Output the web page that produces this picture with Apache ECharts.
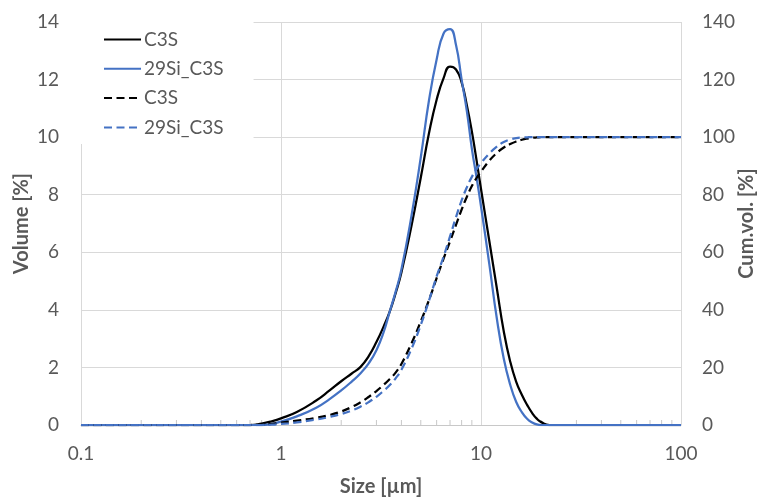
<!DOCTYPE html>
<html>
<head>
<meta charset="utf-8">
<title>Particle size distribution</title>
<script src="https://cdn.jsdelivr.net/npm/echarts@6/dist/echarts.min.js"></script>
<style>
  html, body { margin: 0; padding: 0; background: #fff; }
  #chart { width: 760px; height: 497px; }
</style>
</head>
<body>
<div id="chart"></div>
<script>
// Particle sizes [µm] at which the distributions are sampled
const sizes = [0.1, 0.2, 0.3, 0.4, 0.5, 0.6, 0.7, 0.8, 0.9, 1.0, 1.2, 1.5, 1.75, 2.0, 2.25, 2.5, 2.75, 3.0, 3.25, 3.5, 3.75, 4.0, 4.5, 5.0, 5.5, 6.0, 6.5, 7.0, 7.5, 8.0, 8.5, 9.0, 9.5, 10, 11, 12, 13, 14, 15, 16, 17, 18, 19, 20, 22, 25, 30, 40, 60, 100];

// Volume density [%]
const c3sVolume = [0, 0, 0, 0, 0, 0, 0, 0.05, 0.13, 0.23, 0.45, 0.85, 1.2, 1.52, 1.78, 2.02, 2.4, 2.88, 3.4, 3.95, 4.6, 5.3, 6.95, 8.6, 10.15, 11.3, 12.05, 12.45, 12.35, 11.9, 11.1, 10.2, 9.2, 8.2, 6.4, 4.75, 3.25, 2.2, 1.5, 1.05, 0.7, 0.42, 0.22, 0.1, 0, 0, 0, 0, 0, 0];
const si29Volume = [0, 0, 0, 0, 0, 0, 0, 0, 0.04, 0.12, 0.3, 0.6, 0.9, 1.2, 1.5, 1.8, 2.15, 2.6, 3.2, 3.95, 4.65, 5.4, 7.3, 9.3, 11.3, 12.7, 13.6, 13.75, 13.2, 12.0, 10.9, 9.6, 8.6, 7.6, 5.6, 3.7, 2.3, 1.4, 0.8, 0.45, 0.22, 0.09, 0.02, 0, 0, 0, 0, 0, 0, 0];

// Cumulative volume [%]
const c3sCumulative = [0, 0, 0, 0, 0, 0, 0, 0.1, 0.4, 0.8, 1.5, 2.5, 3.5, 4.7, 6.2, 7.9, 9.8, 11.8, 13.9, 16.0, 18.3, 21.2, 28.5, 36.0, 43.5, 51.0, 57.8, 63.8, 69.5, 74.8, 79.3, 83.0, 85.8, 88.0, 91.8, 94.5, 96.4, 97.6, 98.5, 99.1, 99.5, 99.75, 99.9, 100, 100, 100, 100, 100, 100, 100];
const si29Cumulative = [0, 0, 0, 0, 0, 0, 0, 0, 0.1, 0.35, 0.9, 1.9, 2.8, 3.8, 5.0, 6.4, 8.0, 9.8, 11.8, 13.9, 16.3, 19.2, 26.6, 34.8, 43.3, 51.6, 58.5, 65.5, 72.2, 78.0, 82.6, 86.2, 88.9, 91.0, 94.3, 96.7, 98.3, 99.2, 99.65, 99.85, 99.95, 100, 100, 100, 100, 100, 100, 100, 100, 100];

// Minor tick positions on the logarithmic size axis
const minorTicks = [0.2, 0.3, 0.4, 0.5, 0.6, 0.7, 0.8, 0.9, 2, 3, 4, 5, 6, 7, 8, 9, 20, 30, 40, 50, 60, 70, 80, 90];

const seriesNames = ['C3S', '29Si_C3S', 'C3S cum.', '29Si_C3S cum.'];

const pairs = (ys) => sizes.map((x, i) => [x, ys[i]]);

const FONT = 'Lato';
const TEXT = '#595959';
const GRID = '#d9d9d9';
const BLACK = '#000000';
const BLUE = '#4472C4';
const DASH = [8, 4.5];

const chart = echarts.init(document.getElementById('chart'), null, { renderer: 'canvas' });

function lineSeries(name, data, color, yAxisIndex, dashed) {
  return {
    name: name,
    type: 'line',
    data: data,
    yAxisIndex: yAxisIndex,
    symbol: 'none',
    showSymbol: false,
    smooth: 0.5,
    color: color,
    lineStyle: { color: color, width: 2.25, type: dashed ? DASH : 'solid' },
    emphasis: { disabled: true },
    z: 3
  };
}

const axisTitle = { fontFamily: FONT, fontSize: 20, fontWeight: 'bold', color: TEXT };

chart.setOption({
  animation: false,
  backgroundColor: '#ffffff',
  textStyle: { fontFamily: FONT },
  grid: { left: 81, right: 79, top: 22, bottom: 72, containLabel: false, outerBoundsMode: 'none' },
  legend: {
    orient: 'vertical',
    left: 81,
    top: 22,
    padding: [8, 30, 7, 22],
    backgroundColor: '#ffffff',
    itemWidth: 37,
    itemHeight: 16,
    itemGap: 10.3,
    selectedMode: false,
    data: seriesNames,
    formatter: (name) => name.replace(' cum.', ''),
    itemStyle: { opacity: 0 },
    textStyle: { fontFamily: FONT, fontSize: 19, color: TEXT, lineHeight: 16, padding: [0, 0, 0, -2] }
  },
  xAxis: {
    type: 'log',
    logBase: 10,
    min: 0.1,
    max: 100,
    name: 'Size [µm]',
    nameLocation: 'middle',
    nameGap: 52,
    nameMoveOverlap: false,
    nameTextStyle: axisTitle,
    axisLine: { show: true, lineStyle: { color: '#c8c8c8', width: 1 } },
    axisTick: { show: false },
    axisLabel: {
      margin: 19,
      fontFamily: FONT,
      fontSize: 19,
      color: TEXT,
      formatter: (v) => String(Number(v.toPrecision(6)))
    },
    splitLine: { show: true, lineStyle: { color: GRID, width: 1 } }
  },
  yAxis: [
    {
      type: 'value',
      min: 0,
      max: 14,
      interval: 2,
      name: 'Volume [%]',
      nameLocation: 'middle',
      nameGap: 49,
      nameMoveOverlap: false,
      nameTextStyle: axisTitle,
      axisLine: { show: false },
      axisTick: { show: false },
      axisLabel: { margin: 22, fontFamily: FONT, fontSize: 19, color: TEXT },
      splitLine: { show: true, lineStyle: { color: GRID, width: 1 } }
    },
    {
      type: 'value',
      min: 0,
      max: 140,
      interval: 20,
      position: 'right',
      name: 'Cum.vol. [%]',
      nameLocation: 'middle',
      nameGap: 56,
      nameMoveOverlap: false,
      nameTextStyle: axisTitle,
      axisLine: { show: false },
      axisTick: { show: false },
      axisLabel: { margin: 21, fontFamily: FONT, fontSize: 19, color: TEXT },
      splitLine: { show: false }
    }
  ],
  series: [
    {
      name: 'minor ticks',
      type: 'custom',
      silent: true,
      xAxisIndex: 0,
      yAxisIndex: 0,
      z: 2,
      data: minorTicks.map((v) => [v, 0]),
      encode: { x: 0, y: 1 },
      renderItem: (params, api) => {
        const p = api.coord([api.value(0), 0]);
        return {
          type: 'line',
          shape: { x1: p[0], y1: p[1], x2: p[0], y2: p[1] - 5 },
          style: { stroke: '#c8c8c8', lineWidth: 1 }
        };
      }
    },
    lineSeries(seriesNames[0], pairs(c3sVolume), BLACK, 0, false),
    lineSeries(seriesNames[1], pairs(si29Volume), BLUE, 0, false),
    lineSeries(seriesNames[2], pairs(c3sCumulative), BLACK, 1, true),
    lineSeries(seriesNames[3], pairs(si29Cumulative), BLUE, 1, true)
  ]
});
</script>
</body>
</html>
